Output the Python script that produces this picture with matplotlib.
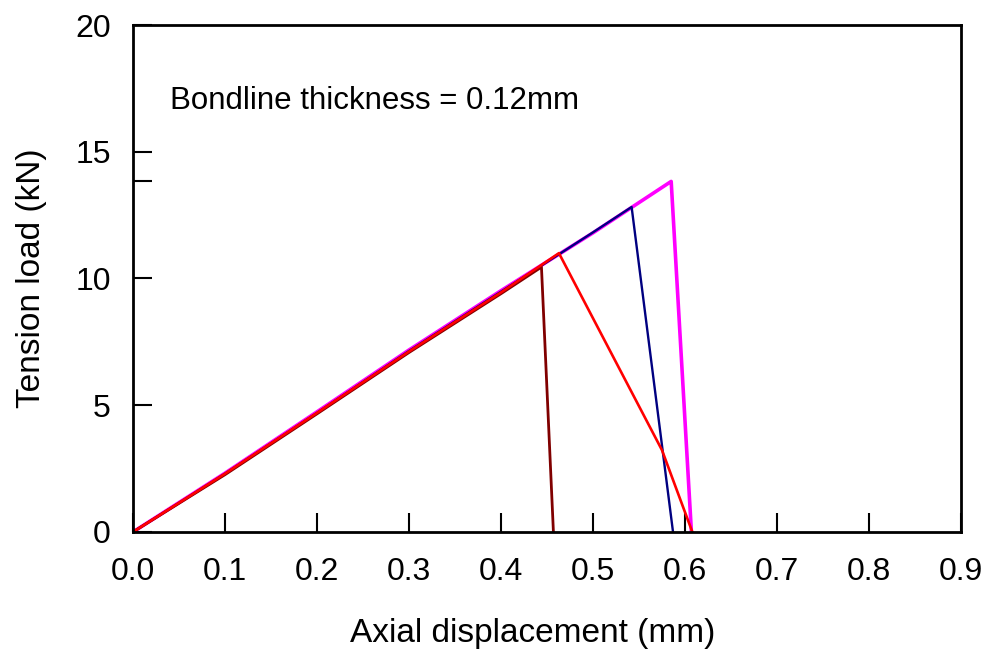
import numpy as np
import matplotlib
matplotlib.use('Agg')
import matplotlib.pyplot as plt

plt.rcParams['font.family'] = ['Liberation Sans', 'DejaVu Sans']

# specimen curves, bondline 0.12 mm (displacement in mm, load in kN)
x_brown = [0.0, 0.1, 0.2, 0.3, 0.4, 0.444, 0.457]
y_brown = [0.0, 2.26, 4.66, 7.08, 9.40, 10.45, 0.0]

x_red = [0.0, 0.1, 0.2, 0.3, 0.4, 0.463, 0.575, 0.608]
y_red = [0.0, 2.30, 4.70, 7.12, 9.45, 11.00, 3.23, 0.0]

x_navy = [0.0, 0.1, 0.2, 0.3, 0.4, 0.5, 0.542, 0.587]
y_navy = [0.0, 2.30, 4.70, 7.14, 9.48, 11.82, 12.82, 0.0]

x_mag = [0.0, 0.1, 0.2, 0.3, 0.4, 0.5, 0.585, 0.607]
y_mag = [0.0, 2.32, 4.74, 7.18, 9.52, 11.80, 13.83, 0.0]

fig = plt.figure(figsize=(9.82, 6.58), dpi=100)
ax = fig.add_axes([0.1354, 0.1915, 0.8432, 0.7705])

ax.plot(x_mag, y_mag, color='#ff00ff', lw=2.6)
ax.plot(x_navy, y_navy, color='#000080', lw=1.7)
ax.plot(x_brown, y_brown, color='#800000', lw=2.0)
ax.plot(x_red, y_red, color='#ff0000', lw=1.9)

ax.text(0.04, 17.0, 'Bondline thickness = 0.12mm', fontsize=22.5, va='center')

ax.set_xlim(0, 0.9)
ax.set_ylim(0, 20)
ax.set_xticks(np.arange(0, 0.91, 0.1))
ax.set_xticklabels(['%.1f' % v for v in np.arange(0, 0.91, 0.1)])
ax.set_yticks([0, 5, 10, 15, 20])
ax.set_yticks([13.83], minor=True)

ax.tick_params(which='both', direction='in', length=14, width=1.5, labelsize=23, pad=16)
ax.tick_params(axis='x', pad=18)
for s in ax.spines.values():
    s.set_linewidth(2)

ax.set_xlabel('Axial displacement (mm)', fontsize=24)
ax.xaxis.set_label_coords(0.483, -0.17)
ax.set_ylabel('Tension load (kN)', fontsize=24, labelpad=20)

fig.savefig('out.png', dpi=100)
